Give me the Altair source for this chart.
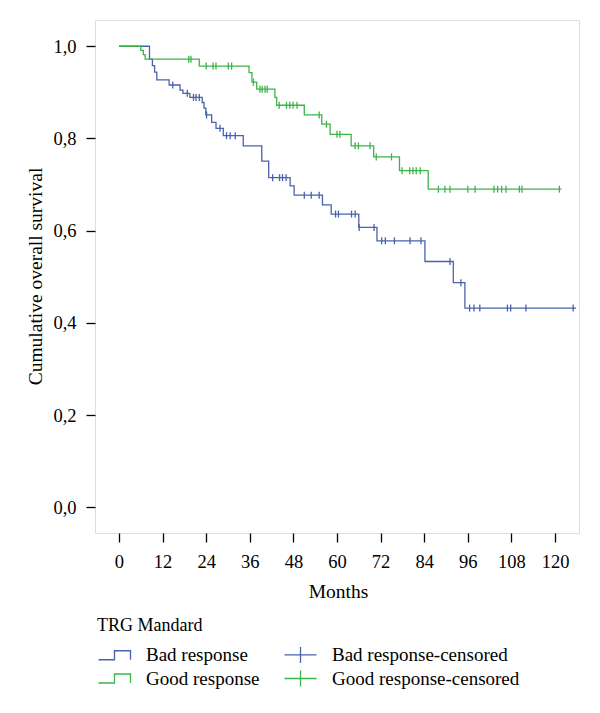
import altair as alt
import numpy as np
import pandas as pd

# ---- data ----
bad_times = [0, 8.4, 9.2, 9.8, 10.4, 13.8, 16.8, 17.6, 19.5, 22.9, 23.4, 23.9, 25.5, 26.7,
             28.7, 34.2, 39.3, 41.2, 47.1, 48.2, 56.0, 58.4, 66.0, 71.0, 84.2, 92.0, 95.2]
bad_surv = [1.0, 0.972, 0.958, 0.944, 0.927, 0.916, 0.905, 0.898, 0.889, 0.878, 0.866, 0.851, 0.835, 0.822,
            0.806, 0.784, 0.751, 0.715, 0.697, 0.677, 0.656, 0.636, 0.607, 0.578, 0.533, 0.487, 0.432]
bad_end = 125.8
bad_censored = [14.8, 18.8, 20.5, 21.2, 22.1, 24.1, 27.8, 29.6, 30.6, 32.0, 42.3, 44.2, 45.0, 46.0,
                51.0, 52.9, 55.1, 59.6, 60.4, 64.0, 65.0, 66.1, 70.2, 72.3, 73.3, 75.8, 80.1, 83.1,
                91.1, 94.1, 96.5, 97.7, 99.3, 106.9, 107.8, 112.0, 125.0]

good_times = [0, 6.0, 6.7, 7.2, 22.1, 35.8, 36.6, 37.9, 42.9, 43.4, 51.0, 55.8, 58.1, 63.9, 70.1, 77.2, 85.1]
good_surv = [1.0, 0.991, 0.982, 0.972, 0.957, 0.943, 0.922, 0.907, 0.889, 0.872, 0.851, 0.831, 0.809,
             0.784, 0.760, 0.730, 0.690]
good_end = 121.8
good_censored = [19.2, 19.8, 24.0, 25.9, 26.7, 30.1, 31.0, 37.0, 38.8, 39.4, 40.2, 40.8, 44.1, 46.1,
                 47.0, 47.9, 49.0, 55.1, 57.1, 60.0, 60.8, 65.0, 65.9, 69.1, 70.8, 75.0, 77.9, 80.0,
                 80.9, 81.8, 82.9, 87.9, 89.7, 91.1, 96.0, 98.0, 103.2, 104.2, 105.3, 106.5, 110.2,
                 110.9, 121.2]

legend_labels = ["Bad response", "Good response", "Bad response-censored", "Good response-censored"]
x_ticks = [0, 12, 24, 36, 48, 60, 72, 84, 96, 108, 120]
y_ticks = [0.0, 0.2, 0.4, 0.6, 0.8, 1.0]

BLUE = "#4a62ad"
GREEN = "#3cb44b"
FONT = "Liberation Serif"


def step_frame(times, surv, end):
    return pd.DataFrame({"t": list(times) + [end], "s": list(surv) + [surv[-1]]})


def censor_frame(times, surv, cens):
    idx = np.searchsorted(np.array(times), np.array(cens), side="right") - 1
    return pd.DataFrame({"t": cens, "s": np.array(surv)[idx]})


xs = alt.Scale(domain=[-6.6, 126.6], nice=False, zero=False)
ys = alt.Scale(domain=[-0.056, 1.057], nice=False, zero=False)

x_axis = alt.Axis(values=x_ticks, title="Months", grid=False, domain=False,
                  tickSize=9, tickWidth=1.3, tickColor="black", labelPadding=10,
                  labelFont=FONT, labelFontSize=18.5, labelColor="black",
                  titleFont=FONT, titleFontSize=19.5, titleFontWeight="normal", titleColor="black",
                  titleX=243, titleY=64, titleBaseline="alphabetic")
y_axis = alt.Axis(values=y_ticks, title="Cumulative overall survival", grid=False, domain=False,
                  tickSize=9, tickWidth=1.3, tickColor="black", labelPadding=10,
                  labelExpr="replace(format(datum.value, '.1f'), '.', ',')",
                  labelFont=FONT, labelFontSize=18.5, labelColor="black",
                  titleFont=FONT, titleFontSize=19.5, titleFontWeight="normal", titleColor="black",
                  titleX=-54, titleY=256, titleAngle=270, titleBaseline="alphabetic")


def line_layer(df, color):
    return alt.Chart(df).mark_line(interpolate="step-after", color=color, strokeWidth=1.3).encode(
        x=alt.X("t:Q", scale=xs, axis=x_axis),
        y=alt.Y("s:Q", scale=ys, axis=y_axis),
    )


TICK = "M0,-1L0,1"


def censor_layer(df, color):
    return alt.Chart(df).mark_point(shape=TICK, size=49, filled=False, color=color,
                                    strokeWidth=1.3, opacity=1).encode(
        x=alt.X("t:Q", scale=xs, axis=x_axis),
        y=alt.Y("s:Q", scale=ys, axis=y_axis),
    )


STEP = "M-1,0.56L1,0.56L1,-0.56L3,-0.56L3,0.56"
CROSS = "M-1,0L3,0M1,-1L1,1"

legend_cfg = dict(title="TRG Mandard", orient="none", legendX=2, legendY=597,
                  columns=2, columnPadding=21, rowPadding=1, padding=0,
                  symbolOpacity=1, symbolStrokeWidth=1.3, symbolSize=256,
                  labelOffset=30, labelLimit=400,
                  titleFont=FONT, titleFontSize=18, titleFontWeight="normal",
                  titleColor="black", titlePadding=10,
                  labelFont=FONT, labelFontSize=19, labelColor="black")

legend_df = pd.DataFrame({"cat": legend_labels, "t": [0.0] * 4, "s": [0.0] * 4})
legend_layer = alt.Chart(legend_df).mark_point(filled=False, opacity=0, size=256, strokeWidth=1.3).encode(
    x=alt.X("t:Q", scale=xs, axis=x_axis),
    y=alt.Y("s:Q", scale=ys, axis=y_axis),
    color=alt.Color("cat:N", scale=alt.Scale(domain=legend_labels, range=[BLUE, GREEN, BLUE, GREEN]),
                    legend=alt.Legend(**legend_cfg)),
    shape=alt.Shape("cat:N", scale=alt.Scale(domain=legend_labels, range=[STEP, STEP, CROSS, CROSS]),
                    legend=alt.Legend(**legend_cfg)),
)

chart = alt.layer(
    line_layer(step_frame(bad_times, bad_surv, bad_end), BLUE),
    line_layer(step_frame(good_times, good_surv, good_end), GREEN),
    censor_layer(censor_frame(bad_times, bad_surv, bad_censored), BLUE),
    censor_layer(censor_frame(good_times, good_surv, good_censored), GREEN),
    legend_layer,
).properties(
    width=484, height=513,
    autosize=alt.AutoSizeParams(type="none"),
    padding={"left": 87, "top": 12, "right": 5, "bottom": 172},
).configure_view(stroke="black", strokeWidth=1.4).configure(background="white")

chart.save("out.html", embed_options={"renderer": "svg", "actions": False})
